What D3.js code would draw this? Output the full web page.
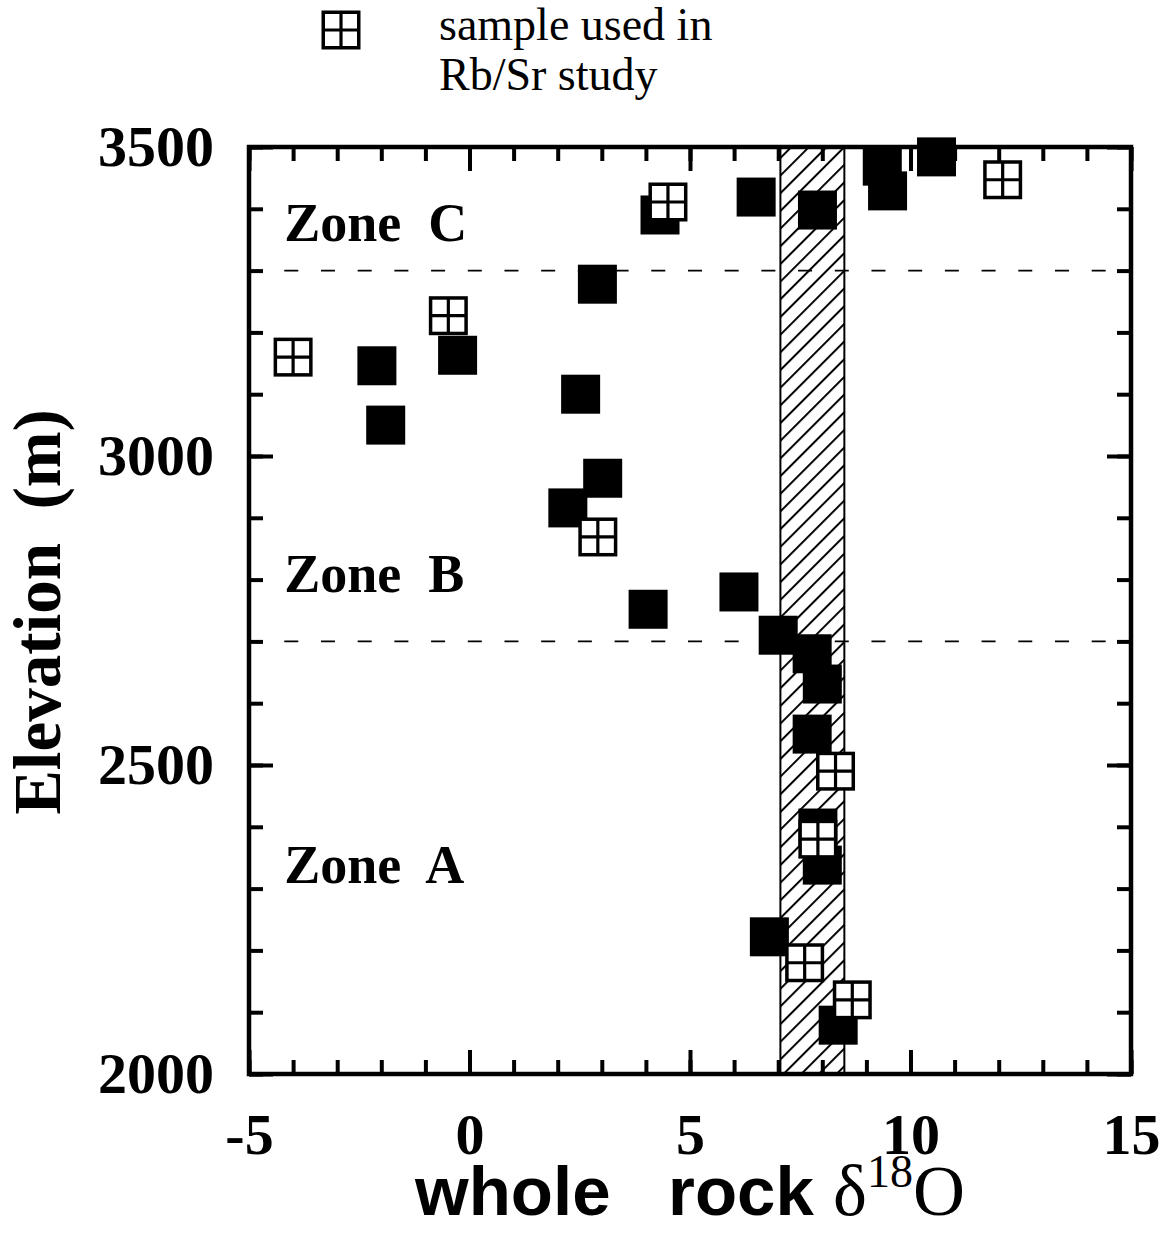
<!DOCTYPE html>
<html>
<head>
<meta charset="utf-8">
<script src="https://cdn.jsdelivr.net/npm/d3@7"></script>
<style>
  body { margin: 0; background: #fff; }
  text { white-space: pre; }
</style>
</head>
<body>
<svg id="chart" width="1173" height="1233"></svg>
<script>
// Whole-rock oxygen isotope values (per mil) against sample elevation (m)
const filledD18O = [-2.1, -1.9, -0.27, 2.52, 2.9, 3.02, 2.23, 4.32, 6.5, 7.89, 9.36, 9.48, 10.59,
                    4.05, 6.11, 7.0, 7.77, 8.0, 7.77, 7.9, 8.0, 6.8, 8.36];
const filledElev = [3146, 3050, 3163, 3100, 3278, 2964, 2916, 3390, 3419, 3398, 3469, 3429, 3484,
                    2752, 2780, 2710, 2680, 2631, 2550, 2398, 2338, 2222, 2079];

// Samples also used in the Rb/Sr study
const rbsrD18O = [-4.0, -0.48, 2.91, 4.5, 12.09, 8.3, 7.9, 7.6, 8.68];
const rbsrElev = [3160, 3227, 2869, 3411, 3447, 2490, 2380, 2180, 2120];

// Range of unaltered values (hatched band), zone boundaries
const bandRange = [7.05, 8.5];
const zoneBounds = [3300, 2700];
const zoneNames = ["Zone  C", "Zone  B", "Zone  A"];

// Axis ticks
const xMajor = [-5, 0, 5, 10, 15];
const xMinor = d3.range(-5, 15.5, 1);
const yMajor = [2000, 2500, 3000, 3500];
const yMinor = d3.range(2000, 3550, 100);

const legendLines = ["sample used in", "Rb/Sr study"];

const svg = d3.select("#chart");
const L = 249, R = 1131, T = 147, B = 1074;
const x = d3.scaleLinear().domain([-5, 15]).range([L, R]);
const y = d3.scaleLinear().domain([2000, 3500]).range([B, T]);

const serif = "'Liberation Serif', 'Times New Roman', serif";
const sans = "'Liberation Sans', Arial, Helvetica, sans-serif";

// hatch pattern for the band
const HS = 12.5;
const defs = svg.append("defs");
const pat = defs.append("pattern")
  .attr("id", "hatch")
  .attr("patternUnits", "userSpaceOnUse")
  .attr("width", HS).attr("height", HS)
  .attr("patternTransform", "rotate(45)");
pat.append("rect").attr("width", HS).attr("height", HS).attr("fill", "#fff");
pat.append("line")
  .attr("x1", 1).attr("y1", 0).attr("x2", 1).attr("y2", HS)
  .attr("stroke", "#000").attr("stroke-width", 2);

svg.append("rect")
  .attr("x", x(bandRange[0])).attr("y", T)
  .attr("width", x(bandRange[1]) - x(bandRange[0]))
  .attr("height", B - T)
  .attr("fill", "url(#hatch)")
  .attr("stroke", "#000").attr("stroke-width", 2);

// dashed zone boundaries
svg.selectAll("line.zone").data(zoneBounds).join("line")
  .attr("class", "zone")
  .attr("x1", x(-4.2)).attr("x2", x(15))
  .attr("y1", d => y(d)).attr("y2", d => y(d))
  .attr("stroke", "#000").attr("stroke-width", 1.8)
  .attr("stroke-dasharray", "14,22.7");

// axes: minor and major ticks on all four sides, pointing inward
function styleAxis(g) {
  g.select(".domain").remove();
  g.selectAll(".tick line").attr("stroke", "#000").attr("stroke-width", 4);
  g.selectAll(".tick text")
    .attr("fill", "#000")
    .style("font-family", serif)
    .style("font-weight", "bold")
    .style("font-size", "58px");
}
const fmt = d => String(d);

svg.append("g").attr("transform", `translate(0,${B})`)
  .call(d3.axisBottom(x).tickValues(xMinor).tickSize(-14).tickFormat(""))
  .call(styleAxis);
svg.append("g").attr("transform", `translate(0,${B})`)
  .call(d3.axisBottom(x).tickValues(xMajor).tickSize(-24).tickPadding(39).tickFormat(fmt))
  .call(styleAxis);
svg.append("g").attr("transform", `translate(0,${T})`)
  .call(d3.axisTop(x).tickValues(xMinor).tickSize(-14).tickFormat(""))
  .call(styleAxis);
svg.append("g").attr("transform", `translate(0,${T})`)
  .call(d3.axisTop(x).tickValues(xMajor).tickSize(-24).tickFormat(""))
  .call(styleAxis);

svg.append("g").attr("transform", `translate(${L},0)`)
  .call(d3.axisLeft(y).tickValues(yMinor).tickSize(-14).tickFormat(""))
  .call(styleAxis);
svg.append("g").attr("transform", `translate(${L},0)`)
  .call(d3.axisLeft(y).tickValues(yMajor).tickSize(-24).tickPadding(35).tickFormat(fmt))
  .call(styleAxis);
svg.append("g").attr("transform", `translate(${R},0)`)
  .call(d3.axisRight(y).tickValues(yMinor).tickSize(-14).tickFormat(""))
  .call(styleAxis);
svg.append("g").attr("transform", `translate(${R},0)`)
  .call(d3.axisRight(y).tickValues(yMajor).tickSize(-24).tickFormat(""))
  .call(styleAxis);

// plot frame
svg.append("rect")
  .attr("x", L).attr("y", T).attr("width", R - L).attr("height", B - T)
  .attr("fill", "none").attr("stroke", "#000").attr("stroke-width", 4.5);

// zone labels
const zoneLabelElev = [3348, 2780, 2309];
svg.selectAll("text.zonelbl").data(zoneNames).join("text")
  .attr("class", "zonelbl")
  .attr("x", x(-4.2))
  .attr("y", (d, i) => y(zoneLabelElev[i]))
  .style("font-family", serif).style("font-weight", "bold").style("font-size", "54px")
  .text(d => d);

// markers
const S = 39;
const filled = d3.range(filledD18O.length).map(i => ({ v: filledD18O[i], e: filledElev[i] }));
const open = d3.range(rbsrD18O.length).map(i => ({ v: rbsrD18O[i], e: rbsrElev[i] }));

svg.selectAll("rect.filled").data(filled).join("rect")
  .attr("class", "filled")
  .attr("x", d => x(d.v) - S / 2).attr("y", d => y(d.e) - S / 2)
  .attr("width", S).attr("height", S)
  .attr("fill", "#000");

function gridSquare(g, s) {
  const h = s / 2 - 1.75;
  g.append("rect").attr("x", -h).attr("y", -h).attr("width", 2 * h).attr("height", 2 * h)
    .attr("fill", "#fff").attr("stroke", "#000").attr("stroke-width", 3.5);
  g.append("line").attr("x1", 0).attr("x2", 0).attr("y1", -h).attr("y2", h)
    .attr("stroke", "#000").attr("stroke-width", 3.2);
  g.append("line").attr("x1", -h).attr("x2", h).attr("y1", 0).attr("y2", 0)
    .attr("stroke", "#000").attr("stroke-width", 3.2);
}

svg.selectAll("g.open").data(open).join("g")
  .attr("class", "open")
  .attr("transform", d => `translate(${x(d.v)},${y(d.e)})`)
  .each(function () { gridSquare(d3.select(this), S); });

// legend
const lg = svg.append("g");
gridSquare(lg.append("g").attr("transform", "translate(341,30)"), S);
lg.selectAll("text").data(legendLines).join("text")
  .attr("x", 439).attr("y", (d, i) => 40 + i * 50)
  .style("font-family", serif).style("font-size", "46px")
  .text(d => d);

// axis titles
const xt = svg.append("text")
  .attr("x", x(5)).attr("y", 1215)
  .attr("text-anchor", "middle");
xt.append("tspan").style("font-family", sans).style("font-weight", "bold").style("font-size", "69px")
  .text("whole   rock ");
xt.append("tspan").style("font-family", serif).style("font-size", "72px").text("δ");
xt.append("tspan").style("font-family", serif).style("font-size", "46px").attr("dy", -28).text("18");
xt.append("tspan").style("font-family", serif).style("font-size", "72px").attr("dy", 28).text("O");

svg.append("text")
  .attr("transform", "translate(60,612) rotate(-90)")
  .attr("text-anchor", "middle")
  .style("font-family", serif).style("font-weight", "bold").style("font-size", "67px")
  .text("Elevation  (m)");
</script>
</body>
</html>
